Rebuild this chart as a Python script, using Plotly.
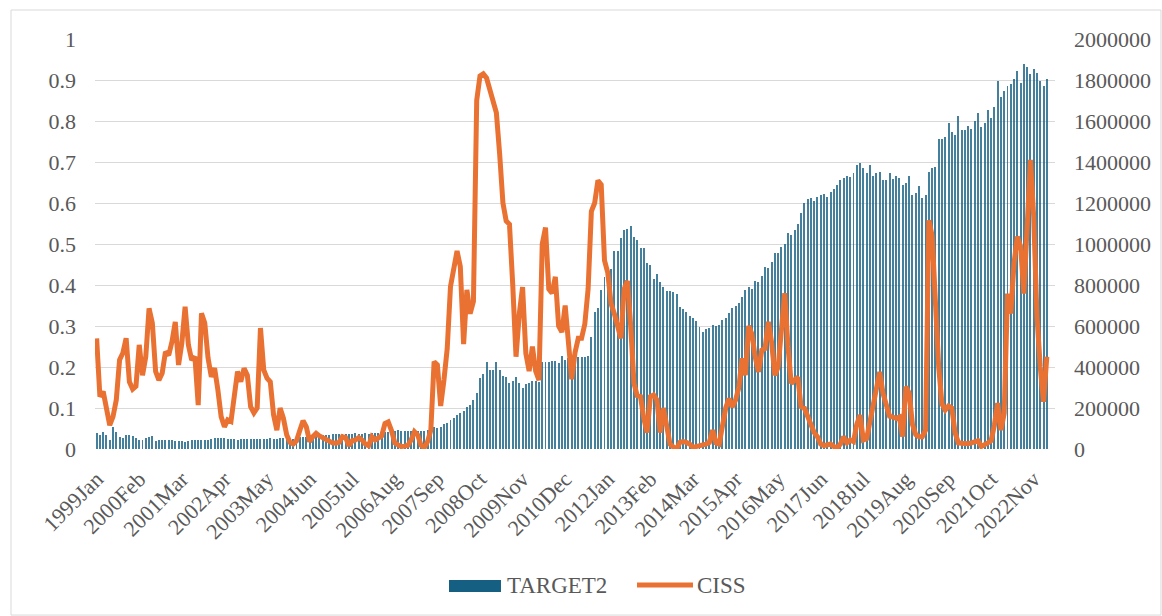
import pandas as pd
import plotly.graph_objects as go

# Monthly observations, 1999Jan onwards
months = [p.strftime("%Y%b") for p in pd.period_range("1999-01", periods=291, freq="M")]

# TARGET2 balances (right axis)
target2 = [
    80000, 68000, 84000, 68000, 44000, 106000, 84000, 60000, 56000, 66000,
    68000, 64000, 52000, 44000, 44000, 56000, 60000, 64000, 40000, 42000,
    42000, 44000, 44000, 44000, 38000, 40000, 40000, 36000, 40000, 42000,
    42000, 44000, 44000, 42000, 44000, 48000, 54000, 56000, 52000, 52000,
    50000, 50000, 48000, 46000, 48000, 50000, 50000, 50000, 48000, 50000,
    50000, 48000, 50000, 52000, 48000, 50000, 52000, 52000, 50000, 48000,
    50000, 54000, 58000, 60000, 60000, 62000, 60000, 62000, 64000, 66000,
    68000, 70000, 72000, 72000, 74000, 72000, 74000, 74000, 74000, 76000,
    74000, 74000, 76000, 74000, 76000, 76000, 78000, 80000, 84000, 82000,
    84000, 86000, 92000, 86000, 86000, 88000, 88000, 86000, 88000, 90000,
    90000, 92000, 100000, 108000, 104000, 108000, 120000, 128000, 142000, 150000,
    166000, 174000, 186000, 206000, 214000, 240000, 272000, 344000, 366000, 422000,
    386000, 386000, 424000, 386000, 356000, 350000, 324000, 334000, 352000, 320000,
    300000, 316000, 324000, 332000, 334000, 328000, 424000, 426000, 426000, 430000,
    430000, 418000, 456000, 434000, 442000, 438000, 450000, 448000, 450000, 448000,
    454000, 544000, 666000, 686000, 778000, 840000, 880000, 876000, 968000, 968000,
    1028000, 1066000, 1074000, 1090000, 1032000, 1020000, 982000, 982000, 906000, 898000,
    830000, 856000, 816000, 792000, 772000, 772000, 768000, 754000, 694000, 682000,
    670000, 648000, 640000, 622000, 596000, 572000, 584000, 592000, 604000, 600000,
    604000, 630000, 638000, 662000, 686000, 700000, 710000, 740000, 778000, 788000,
    782000, 820000, 814000, 844000, 890000, 882000, 914000, 954000, 954000, 986000,
    1000000, 1052000, 1044000, 1066000, 1098000, 1150000, 1198000, 1218000, 1222000, 1212000,
    1230000, 1240000, 1242000, 1230000, 1256000, 1266000, 1288000, 1310000, 1320000, 1330000,
    1328000, 1348000, 1386000, 1394000, 1370000, 1344000, 1386000, 1332000, 1348000, 1352000,
    1312000, 1312000, 1348000, 1316000, 1332000, 1320000, 1288000, 1296000, 1332000, 1240000,
    1248000, 1284000, 1222000, 1240000, 1352000, 1370000, 1378000, 1510000, 1510000, 1520000,
    1592000, 1544000, 1532000, 1624000, 1556000, 1556000, 1576000, 1562000, 1600000, 1638000,
    1570000, 1592000, 1654000, 1614000, 1666000, 1796000, 1716000, 1748000, 1770000, 1780000,
    1804000, 1846000, 1786000, 1878000, 1862000, 1830000, 1852000, 1836000, 1796000, 1770000,
    1804000,
]

# CISS stress indicator (left axis)
ciss = [
    0.27, 0.128, 0.14, 0.095, 0.058, 0.079, 0.12, 0.217, 0.234, 0.27,
    0.164, 0.146, 0.153, 0.254, 0.18, 0.225, 0.343, 0.307, 0.189, 0.168,
    0.185, 0.237, 0.229, 0.262, 0.31, 0.205, 0.258, 0.347, 0.254, 0.217,
    0.225, 0.107, 0.331, 0.307, 0.222, 0.176, 0.197, 0.144, 0.079, 0.054,
    0.071, 0.067, 0.14, 0.189, 0.164, 0.197, 0.18, 0.103, 0.088, 0.1,
    0.295, 0.193, 0.173, 0.164, 0.083, 0.046, 0.1, 0.075, 0.035, 0.016,
    0.012, 0.02, 0.045, 0.069, 0.054, 0.018, 0.03, 0.038, 0.032, 0.028,
    0.022, 0.017, 0.015, 0.014, 0.016, 0.03, 0.028, 0.008, 0.02, 0.022,
    0.028, 0.022, 0.012, 0.008, 0.03, 0.022, 0.028, 0.032, 0.062, 0.066,
    0.045, 0.015, 0.01, 0.006, 0.007, 0.009, 0.022, 0.042, 0.034, 0.009,
    0.003, 0.018, 0.046, 0.213, 0.205, 0.105, 0.168, 0.245, 0.396, 0.44,
    0.483, 0.445, 0.256, 0.388, 0.33, 0.36, 0.85, 0.91, 0.915, 0.905,
    0.88, 0.85, 0.82, 0.72, 0.6, 0.556, 0.548, 0.40, 0.225, 0.33,
    0.395, 0.233, 0.19, 0.25, 0.19, 0.168, 0.5, 0.54, 0.39, 0.38,
    0.42, 0.3, 0.285, 0.35, 0.26, 0.17, 0.235, 0.27, 0.27, 0.305,
    0.39, 0.58, 0.6, 0.655, 0.645, 0.46, 0.43, 0.355, 0.33, 0.3,
    0.27, 0.39, 0.41, 0.3, 0.16, 0.13, 0.128, 0.075, 0.04, 0.128,
    0.132, 0.12, 0.04, 0.1, 0.05, 0.012, 0.005, 0.0, 0.016, 0.018,
    0.016, 0.012, 0.004, 0.005, 0.006, 0.01, 0.012, 0.016, 0.046, 0.015,
    0.012, 0.05, 0.1, 0.123, 0.103, 0.119, 0.15, 0.221, 0.18, 0.3,
    0.28, 0.225, 0.188, 0.241, 0.245, 0.31, 0.26, 0.18, 0.2, 0.29,
    0.38, 0.25, 0.16, 0.168, 0.175, 0.103, 0.1, 0.08, 0.06, 0.04,
    0.03, 0.012, 0.008, 0.01, 0.012, 0.006, 0.003, 0.012, 0.03, 0.015,
    0.022, 0.018, 0.06, 0.083, 0.022, 0.025, 0.07, 0.112, 0.16, 0.188,
    0.136, 0.11, 0.08, 0.078, 0.075, 0.078, 0.03, 0.152, 0.136, 0.06,
    0.035, 0.03, 0.03, 0.046, 0.558, 0.52, 0.34, 0.2, 0.11, 0.095,
    0.105, 0.1, 0.04, 0.015, 0.014, 0.013, 0.013, 0.015, 0.018, 0.02,
    0.006, 0.012, 0.015, 0.02, 0.058, 0.112, 0.046, 0.087, 0.379, 0.33,
    0.453, 0.518, 0.494, 0.379, 0.542, 0.705, 0.567, 0.323, 0.2, 0.115,
    0.225,
]

# Every 13th month is labelled
tick_labels = months[::13]

BLUE = "#156082"
ORANGE = "#E97132"
GRID = "#d9d9d9"
TEXT = "#595959"
FONT = "Liberation Serif"

fig = go.Figure()
fig.add_trace(go.Bar(
    x=months, y=target2, name="TARGET2", yaxis="y",
    marker=dict(color=BLUE, line=dict(width=0), opacity=0.8), width=0.3,
    showlegend=False,
))
fig.add_trace(go.Scatter(
    x=months, y=ciss, name="CISS", yaxis="y2", mode="lines",
    line=dict(color=ORANGE, width=5), showlegend=False,
))

tickfont = dict(family=FONT, size=22, color=TEXT)

fig.update_layout(
    width=1162, height=616,
    margin=dict(l=95, r=107, t=39, b=167),
    paper_bgcolor="white", plot_bgcolor="white",
    bargap=0,
    xaxis=dict(
        type="category", range=[-0.5, 292.5],
        tickmode="array", tickvals=tick_labels, ticktext=tick_labels,
        tickangle=-45, tickfont=tickfont, showgrid=False, zeroline=False,
        ticks="", showline=False, ticklabelstandoff=12,
    ),
    yaxis=dict(
        side="right", range=[0, 2000000], dtick=200000, tickformat="d",
        showgrid=True, gridcolor=GRID, gridwidth=1, zeroline=False,
        tickfont=tickfont, ticks="", ticklabelstandoff=18,
    ),
    yaxis2=dict(
        overlaying="y", side="left", range=[0, 1], dtick=0.1,
        showgrid=False, zeroline=False, tickfont=tickfont, ticks="",
        ticklabelstandoff=18,
    ),
)

# Outer frame
fig.add_shape(type="rect", xref="paper", yref="paper",
              x0=-0.0875, x1=1.1104, y0=-0.405, y1=1.0707,
              line=dict(color=GRID, width=1), fillcolor="rgba(0,0,0,0)", layer="below")

# Legend keys
fig.add_shape(type="rect", xref="paper", yref="paper",
              x0=0.36875, x1=0.4229, y0=-0.3488, y1=-0.3195,
              line=dict(width=0), fillcolor=BLUE)
fig.add_shape(type="line", xref="paper", yref="paper",
              x0=0.5646, x1=0.6229, y0=-0.3317, y1=-0.3317,
              line=dict(color=ORANGE, width=5))
fig.add_annotation(text="TARGET2", xref="paper", yref="paper", x=0.4275, y=-0.334,
                   xanchor="left", yanchor="middle", showarrow=False,
                   font=dict(family=FONT, size=23, color=TEXT))
fig.add_annotation(text="CISS", xref="paper", yref="paper", x=0.6255, y=-0.334,
                   xanchor="left", yanchor="middle", showarrow=False,
                   font=dict(family=FONT, size=23, color=TEXT))

fig.write_html("out.html")
